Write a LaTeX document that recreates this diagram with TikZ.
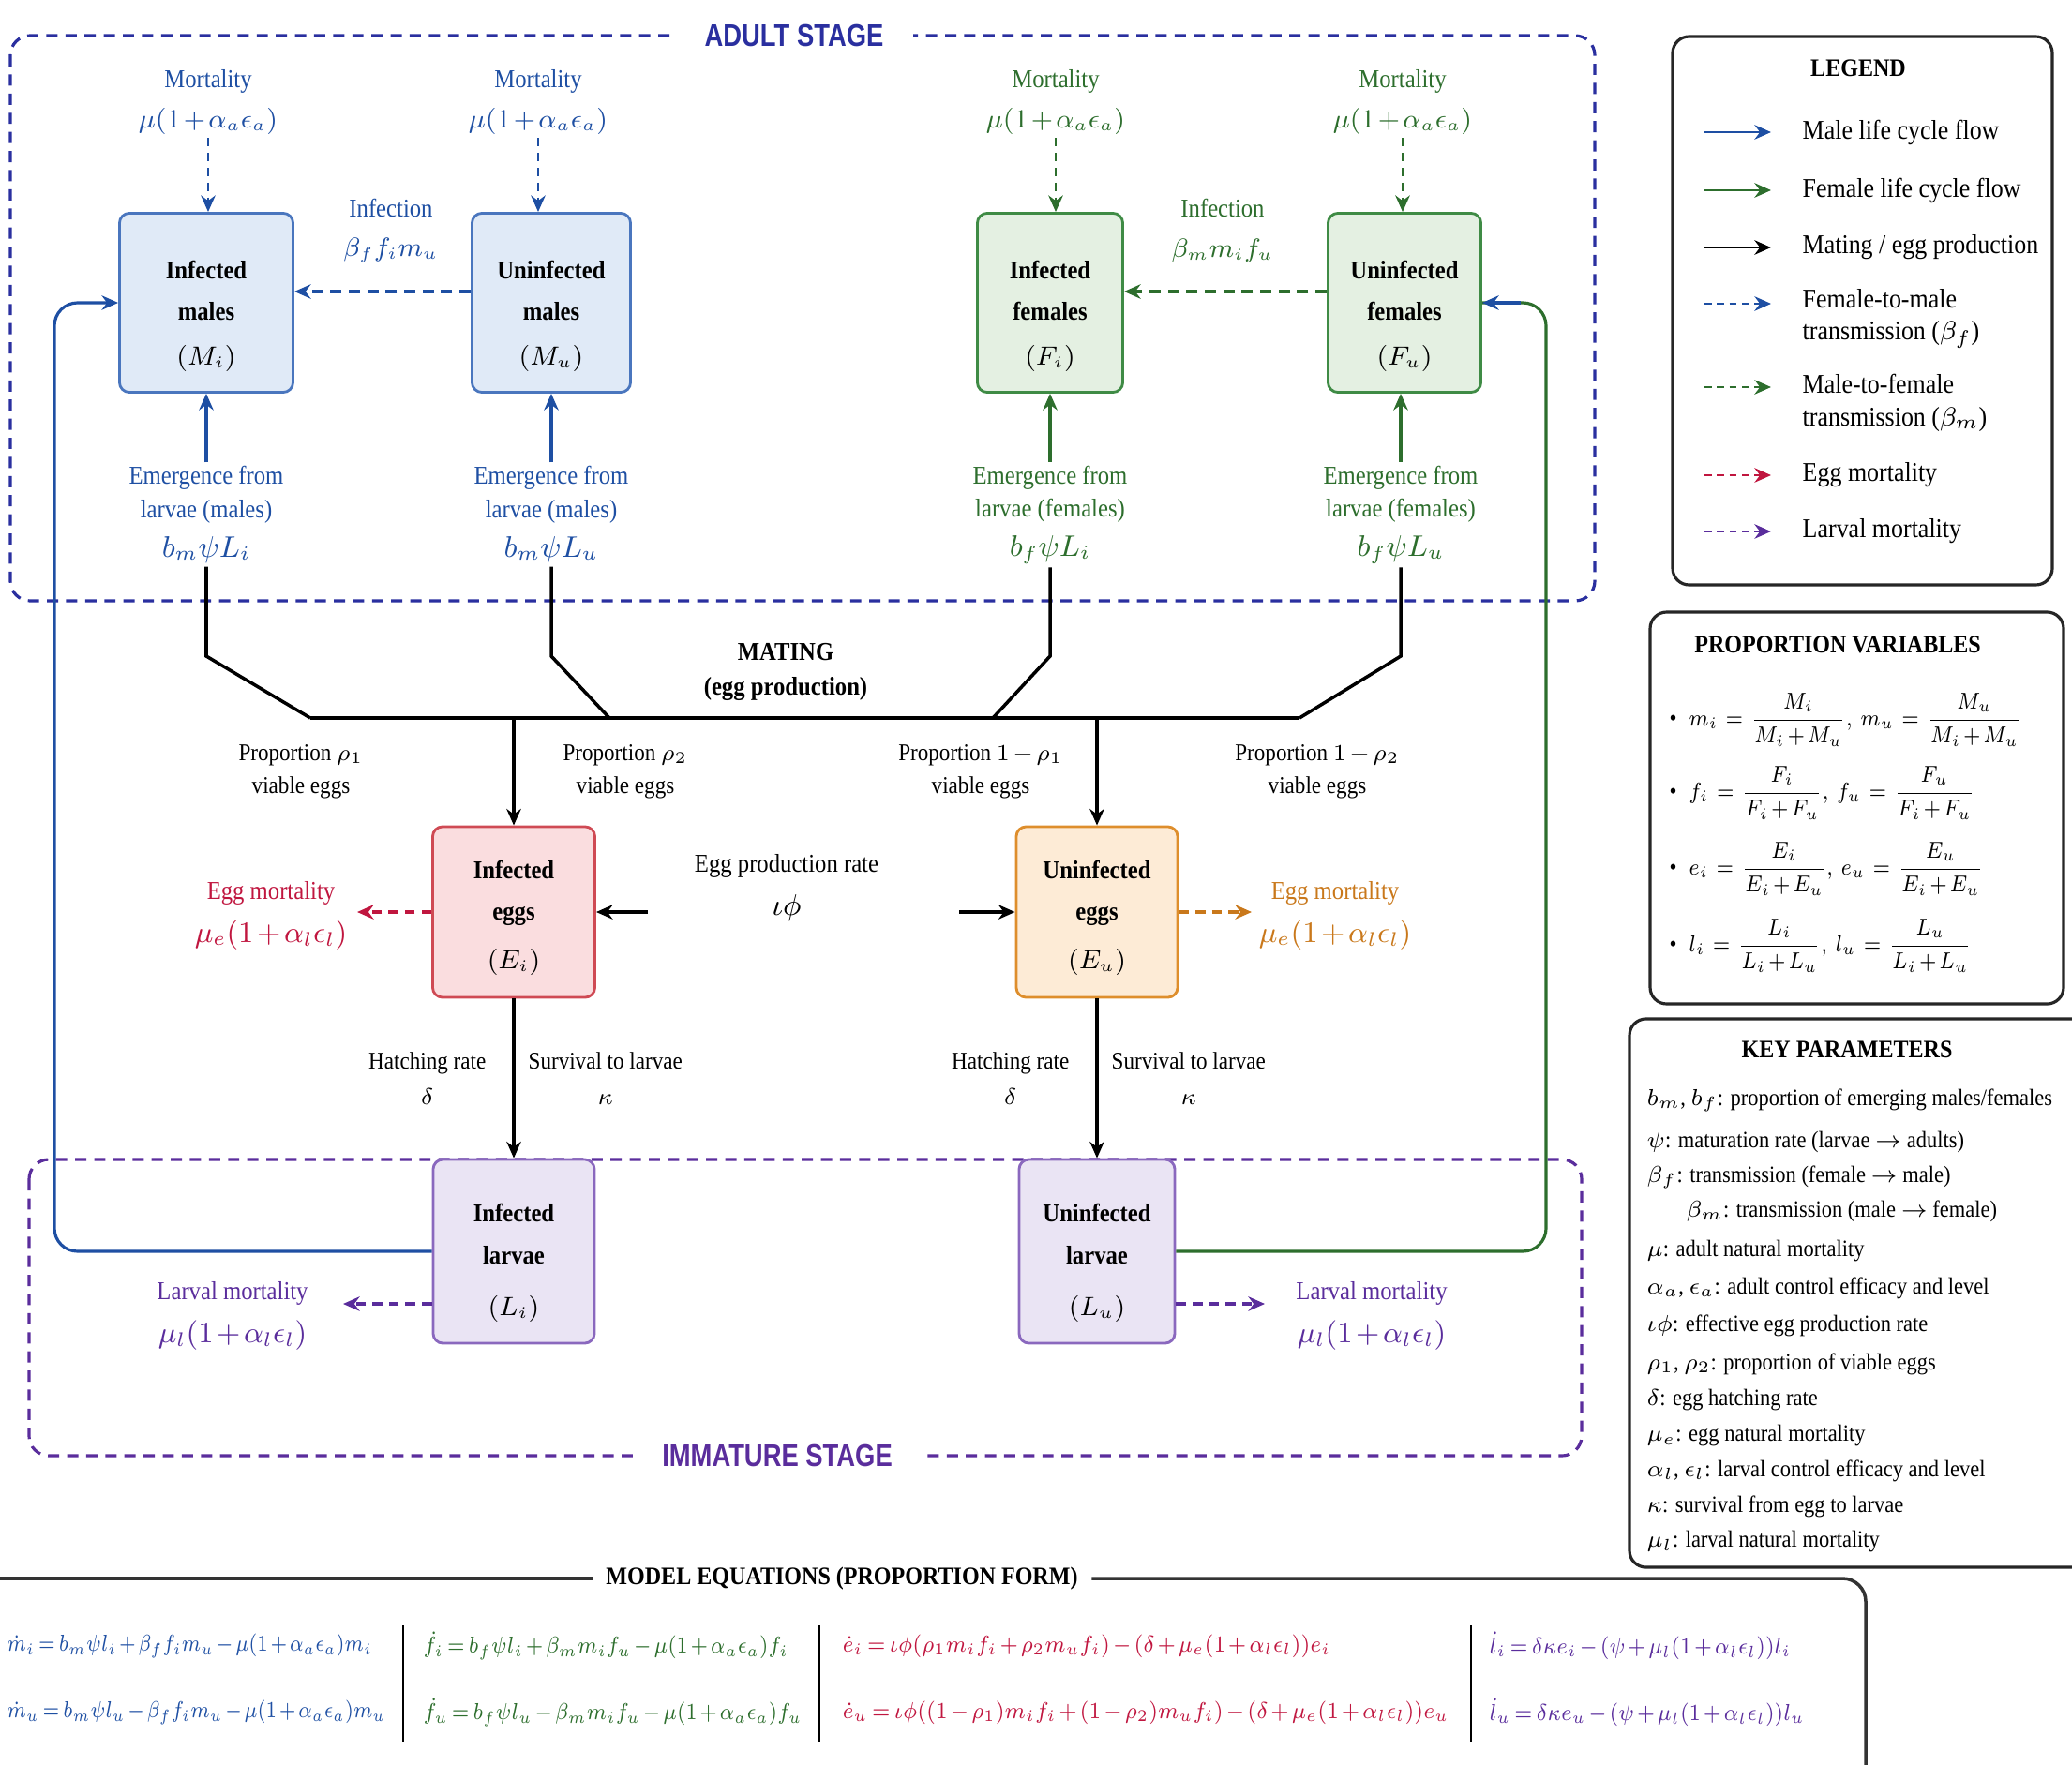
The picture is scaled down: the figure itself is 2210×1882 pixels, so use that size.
\documentclass[tikz,border=0pt]{standalone}
\usepackage{amsmath}
\usepackage{fontspec}
\setmainfont{Liberation Serif}[FakeStretch=0.9]
\setsansfont{Liberation Sans}
\usetikzlibrary{arrows.meta}
\medmuskip=2mu
\thickmuskip=3mu

\definecolor{maleblue}{HTML}{1E4FA3}
\definecolor{femgreen}{HTML}{2D6E2D}
\definecolor{eggred}{HTML}{C0163F}
\definecolor{eggorange}{HTML}{C9781B}
\definecolor{larvpurple}{HTML}{5A2D9C}
\definecolor{adultline}{HTML}{2A2F9F}
\definecolor{maleFill}{HTML}{E0EAF7}
\definecolor{maleEdge}{HTML}{4A76BE}
\definecolor{femFill}{HTML}{E4F0E2}
\definecolor{femEdge}{HTML}{3F8B45}
\definecolor{eggFill}{HTML}{FADDDF}
\definecolor{eggEdge}{HTML}{CF4A54}
\definecolor{ueggFill}{HTML}{FDEBD6}
\definecolor{ueggEdge}{HTML}{DE8E2C}
\definecolor{larvFill}{HTML}{EAE4F4}
\definecolor{larvEdge}{HTML}{8A68BE}

\begin{document}
\begin{tikzpicture}[x=0.01cm, y=-0.01cm, >={Stealth[length=5pt,width=4.4pt]},
    lbl/.style={align=center, inner sep=1pt, font=\fontsize{7.8}{10}\selectfont},
    smalllbl/.style={align=center, inner sep=1pt, font=\fontsize{7.3}{10}\selectfont},
    compbox/.style={rectangle, rounded corners=3pt, draw, line width=0.8pt, align=center, font=\bfseries\fontsize{7.8}{12.6}\selectfont},
    malebox/.style={compbox, fill=maleFill, draw=maleEdge, minimum height=1.91cm},
    femalebox/.style={compbox, fill=femFill, draw=femEdge, minimum height=1.91cm},
    eggbox/.style={compbox, fill=eggFill, draw=eggEdge, minimum height=1.82cm},
    ueggbox/.style={compbox, fill=ueggFill, draw=ueggEdge, minimum height=1.82cm},
    larvabox/.style={compbox, fill=larvFill, draw=larvEdge, minimum height=1.96cm},
    stagetitle/.style={fill=white, inner xsep=9pt, font=\sffamily\bfseries\fontsize{9.5}{11}\selectfont},
    adultframe/.style={draw=adultline, line width=0.9pt, dash pattern=on 3.4pt off 2.4pt, rounded corners=6pt},
    immframe/.style={draw=larvpurple, line width=0.9pt, dash pattern=on 3.4pt off 2.4pt, rounded corners=6pt},
    maleflow/.style={->, draw=maleblue, line width=0.9pt},
    femflow/.style={->, draw=femgreen, line width=0.9pt},
    mateflow/.style={->, draw=black, line width=0.9pt},
    mateline/.style={draw=black, line width=1pt},
    f2m/.style={->, draw=maleblue, line width=1pt, dash pattern=on 3.4pt off 2.2pt},
    m2f/.style={->, draw=femgreen, line width=1pt, dash pattern=on 3.4pt off 2.2pt},
    mortm/.style={->, draw=maleblue, line width=0.8pt, dash pattern=on 2.5pt off 2pt},
    mortf/.style={->, draw=femgreen, line width=0.8pt, dash pattern=on 2.5pt off 2pt},
    eggmort/.style={->, draw=eggred, line width=1pt, dash pattern=on 3pt off 2pt},
    ueggmort/.style={->, draw=eggorange, line width=1pt, dash pattern=on 3pt off 2pt},
    larvmort/.style={->, draw=larvpurple, line width=1pt, dash pattern=on 3pt off 2pt},
    panel/.style={draw=black!85, line width=0.9pt, rounded corners=5pt},
    paneltitle/.style={inner sep=1pt, font=\bfseries\fontsize{7.6}{9}\selectfont},
    legtext/.style={anchor=west, align=left, inner sep=0pt, font=\fontsize{8.2}{9.8}\selectfont},
    kptext/.style={anchor=west, inner sep=0pt, font=\fontsize{7.1}{9}\selectfont},
    pvtext/.style={anchor=west, inner sep=0pt, font=\fontsize{7.2}{9}\selectfont},
    eqtext/.style={anchor=west, inner sep=0pt, font=\fontsize{7.2}{9}\selectfont},
    eqrule/.style={draw=black!80, line width=1pt}]

    \useasboundingbox (0,0) rectangle (2210,1882);

    % --- stage frames ---
    \draw[adultframe] (11,38) rectangle (1701,641);
    \node[stagetitle, text=adultline] (adultT) at (847,38) {\scalebox{0.82}[1]{ADULT STAGE}};
    \draw[immframe] (31,1237) rectangle (1687,1553);
    \node[stagetitle, text=larvpurple] (immT) at (829,1553) {\scalebox{0.82}[1]{IMMATURE STAGE}};

    % --- adults ---
    \node[malebox, minimum width=1.85cm] (Mi) at (220,323) {\rule{0pt}{13.5pt}Infected\\males\\[1pt]$(M_i)$};
    \node[malebox, minimum width=1.69cm] (Mu) at (588,323) {\rule{0pt}{13.5pt}Uninfected\\males\\[1pt]$(M_u)$};
    \node[femalebox, minimum width=1.55cm] (Fi) at (1120,323) {\rule{0pt}{13.5pt}Infected\\females\\[1pt]$(F_i)$};
    \node[femalebox, minimum width=1.63cm] (Fu) at (1498,323) {\rule{0pt}{13.5pt}Uninfected\\females\\[1pt]$(F_u)$};

    \node[lbl, text=maleblue] (mortMi) at (222,109) {Mortality\\[2pt]$\mu(1+\alpha_a\epsilon_a)$};
    \node[lbl, text=maleblue] (mortMu) at (574,109) {Mortality\\[2pt]$\mu(1+\alpha_a\epsilon_a)$};
    \node[lbl, text=femgreen] (mortFi) at (1126,109) {Mortality\\[2pt]$\mu(1+\alpha_a\epsilon_a)$};
    \node[lbl, text=femgreen] (mortFu) at (1496,109) {Mortality\\[2pt]$\mu(1+\alpha_a\epsilon_a)$};
    \draw[mortm] (mortMi.south) -- (mortMi.south |- Mi.north);
    \draw[mortm] (mortMu.south) -- (mortMu.south |- Mu.north);
    \draw[mortf] (mortFi.south) -- (mortFi.south |- Fi.north);
    \draw[mortf] (mortFu.south) -- (mortFu.south |- Fu.north);

    \node[lbl, text=maleblue] (infM) at (417,246) {Infection\\[2pt]$\beta_f f_i m_u$};
    \node[lbl, text=femgreen] (infF) at (1304,246) {Infection\\[2pt]$\beta_m m_i f_u$};
    \draw[f2m] ([yshift=0.12cm]Mu.west) -- ([yshift=0.12cm]Mi.east);
    \draw[m2f] ([yshift=0.12cm]Fu.west) -- ([yshift=0.12cm]Fi.east);

    \node[lbl, text=maleblue] (emMi) at (220,549) {Emergence from\\larvae (males)\\[2pt]{\fontsize{9}{10}\selectfont$b_m\psi L_i$}};
    \node[lbl, text=maleblue] (emMu) at (588,549) {Emergence from\\larvae (males)\\[2pt]{\fontsize{9}{10}\selectfont$b_m\psi L_u$}};
    \node[lbl, text=femgreen] (emFi) at (1120,549) {Emergence from\\larvae (females)\\[2pt]{\fontsize{9}{10}\selectfont$b_f\psi L_i$}};
    \node[lbl, text=femgreen] (emFu) at (1494,549) {Emergence from\\larvae (females)\\[2pt]{\fontsize{9}{10}\selectfont$b_f\psi L_u$}};
    \draw[maleflow] (emMi.north) -- (emMi.north |- Mi.south);
    \draw[maleflow] (emMu.north) -- (emMu.north |- Mu.south);
    \draw[femflow] (emFi.north) -- (emFi.north |- Fi.south);
    \draw[femflow] (emFu.north) -- (emFu.north |- Fu.south);

    % --- mating ---
    \coordinate (knee) at (0,700);
    \coordinate (barL) at (331,766);
    \coordinate (jMu) at (650,766);
    \coordinate (jFi) at (1059,766);
    \coordinate (barR) at (1386,766);
    \draw[mateline] (emMi.south) -- (emMi.south |- knee) -- (barL);
    \draw[mateline] (emMu.south) -- (emMu.south |- knee) -- (jMu);
    \draw[mateline] (emFi.south) -- (emFi.south |- knee) -- (jFi);
    \draw[mateline] (emFu.south) -- (emFu.south |- knee) -- (barR);
    \draw[mateline, line width=1.4pt] (barL) -- (barR);
    \node[lbl, font=\bfseries\fontsize{7.8}{10.5}\selectfont] (mating) at (838,717) {MATING\\(egg production)};

    % --- eggs ---
    \node[eggbox, minimum width=1.73cm] (Ei) at (548,973) {\rule{0pt}{9pt}Infected\\eggs\\[2pt]$(E_i)$};
    \node[ueggbox, minimum width=1.72cm] (Eu) at (1170,973) {\rule{0pt}{9pt}Uninfected\\eggs\\[2pt]$(E_u)$};
    \draw[mateflow] (Ei.north |- barL) -- (Ei.north);
    \draw[mateflow] (Eu.north |- barR) -- (Eu.north);

    \node[smalllbl] (propA) at (321,823) {Proportion $\rho_1$\\viable eggs};
    \node[smalllbl] (propB) at (667,823) {Proportion $\rho_2$\\viable eggs};
    \node[smalllbl] (propC) at (1046,823) {Proportion $1-\rho_1$\\viable eggs};
    \node[smalllbl] (propD) at (1405,823) {Proportion $1-\rho_2$\\viable eggs};

    \node[lbl] (epr) at (839,947) {Egg production rate\\[3pt]{\fontsize{9.5}{10}\selectfont$\iota\phi$}};
    \coordinate (eprL) at (691,973);
    \coordinate (eprR) at (1023,973);
    \draw[mateflow, line width=1.3pt] (eprL) -- (Ei.east);
    \draw[mateflow, line width=1.3pt] (eprR) -- (Eu.west);

    \node[lbl, text=eggred] (emortI) at (289,977) {Egg mortality\\[3pt]{\fontsize{8.6}{10}\selectfont$\mu_e(1+\alpha_l\epsilon_l)$}};
    \node[lbl, text=eggorange] (emortU) at (1424,977) {Egg mortality\\[3pt]{\fontsize{8.6}{10}\selectfont$\mu_e(1+\alpha_l\epsilon_l)$}};
    \coordinate (emL) at (381,973);
    \coordinate (emR) at (1335,973);
    \draw[eggmort] (Ei.west) -- (emL);
    \draw[ueggmort] (Eu.east) -- (emR);

    % --- larvae ---
    \node[larvabox, minimum width=1.72cm] (Li) at (548,1335) {\rule{0pt}{12.5pt}Infected\\larvae\\[3pt]$(L_i)$};
    \node[larvabox, minimum width=1.66cm] (Lu) at (1170,1335) {\rule{0pt}{12.5pt}Uninfected\\larvae\\[3pt]$(L_u)$};
    \draw[mateflow] (Ei.south) -- node[smalllbl, left=7pt] {Hatching rate\\[1pt]$\delta$} node[smalllbl, right=3pt] {Survival to larvae\\[1pt]$\kappa$} (Li.north);
    \draw[mateflow] (Eu.south) -- node[smalllbl, left=7pt] {Hatching rate\\[1pt]$\delta$} node[smalllbl, right=3pt] {Survival to larvae\\[1pt]$\kappa$} (Lu.north);

    \node[lbl, text=larvpurple] (lmortI) at (248,1404) {Larval mortality\\[3pt]{\fontsize{8.6}{10}\selectfont$\mu_l(1+\alpha_l\epsilon_l)$}};
    \node[lbl, text=larvpurple] (lmortU) at (1463,1404) {Larval mortality\\[3pt]{\fontsize{8.6}{10}\selectfont$\mu_l(1+\alpha_l\epsilon_l)$}};
    \coordinate (lmL) at (366,1391);
    \coordinate (lmR) at (1349,1391);
    \draw[larvmort] (Li.west |- lmL) -- (lmL);
    \draw[larvmort] (Lu.east |- lmR) -- (lmR);

    % --- emergence feedback ---
    \coordinate (blueX) at (58,0);
    \coordinate (greenX) at (1649,0);
    \coordinate (fuIn) at (1622,323);
    \draw[maleflow, rounded corners=7pt] (Li.west) -| (blueX |- Mi.west) -- (Mi.west);
    \draw[femgreen, line width=0.9pt, rounded corners=7pt] (Lu.east) -| (greenX |- Fu.east) -- (Fu.east);
    \draw[maleflow] (fuIn) -- (Fu.east);

    % --- legend ---
    \draw[panel] (1784,39) rectangle (2189,624);
    \node[paneltitle] (legT) at (1982,73) {LEGEND};
    \node[legtext] (legA) at (1922,141) {Male life cycle flow};
    \node[legtext] (legB) at (1922,203) {Female life cycle flow};
    \node[legtext] (legC) at (1922,264) {Mating / egg production};
    \node[legtext] (legD) at (1922,340) {Female-to-male\\transmission ($\beta_f$)};
    \node[legtext] (legE) at (1922,430) {Male-to-female\\transmission ($\beta_m$)};
    \node[legtext] (legF) at (1922,507) {Egg mortality};
    \node[legtext] (legG) at (1922,567) {Larval mortality};
    \draw[maleflow, line width=0.8pt] ([xshift=-1.04cm]legA.west) -- ([xshift=-0.33cm]legA.west);
    \draw[femflow, line width=0.8pt] ([xshift=-1.04cm]legB.west) -- ([xshift=-0.33cm]legB.west);
    \draw[mateflow, line width=0.8pt] ([xshift=-1.04cm]legC.west) -- ([xshift=-0.33cm]legC.west);
    \draw[f2m, line width=0.8pt, dash pattern=on 2.2pt off 1.6pt] ([xshift=-1.04cm,yshift=0.16cm]legD.west) -- ([xshift=-0.33cm,yshift=0.16cm]legD.west);
    \draw[m2f, line width=0.8pt, dash pattern=on 2.2pt off 1.6pt] ([xshift=-1.04cm,yshift=0.17cm]legE.west) -- ([xshift=-0.33cm,yshift=0.17cm]legE.west);
    \draw[eggmort, line width=0.8pt, dash pattern=on 2.2pt off 1.6pt] ([xshift=-1.04cm]legF.west) -- ([xshift=-0.33cm]legF.west);
    \draw[larvmort, line width=0.8pt, dash pattern=on 2.2pt off 1.6pt] ([xshift=-1.04cm]legG.west) -- ([xshift=-0.33cm]legG.west);

    % --- proportion variables ---
    \draw[panel] (1760,653) rectangle (2201,1071);
    \node[paneltitle] (pvT) at (1960,688) {PROPORTION VARIABLES};
    \node[pvtext] (pvM) at (1780,768) {\textbullet\enspace\scalebox{0.86}[1]{$m_i \;=\; \dfrac{M_i}{M_i+M_u},\; m_u \;=\; \dfrac{M_u}{M_i+M_u}$}};
    \node[pvtext] (pvF) at (1780,846) {\textbullet\enspace\scalebox{0.86}[1]{$f_i \;=\; \dfrac{F_i}{F_i+F_u},\; f_u \;=\; \dfrac{F_u}{F_i+F_u}$}};
    \node[pvtext] (pvE) at (1780,927) {\textbullet\enspace\scalebox{0.86}[1]{$e_i \;=\; \dfrac{E_i}{E_i+E_u},\; e_u \;=\; \dfrac{E_u}{E_i+E_u}$}};
    \node[pvtext] (pvL) at (1780,1009) {\textbullet\enspace\scalebox{0.86}[1]{$l_i \;=\; \dfrac{L_i}{L_i+L_u},\; l_u \;=\; \dfrac{L_u}{L_i+L_u}$}};

    % --- key parameters ---
    \draw[panel] (1738,1087) rectangle (2240,1672);
    \node[paneltitle] (kpT) at (1970,1120) {KEY PARAMETERS};
    \node[kptext] (kp1) at (1756,1174) {$b_m$, $b_f$: proportion of emerging males/females};
    \node[kptext] (kp2) at (1756,1218) {$\psi$: maturation rate (larvae $\rightarrow$ adults)};
    \node[kptext] (kp3) at (1756,1256) {$\beta_f$: transmission (female $\rightarrow$ male)};
    \node[kptext] (kp4) at (1798,1292) {$\beta_m$: transmission (male $\rightarrow$ female)};
    \node[kptext] (kp5) at (1756,1335) {$\mu$: adult natural mortality};
    \node[kptext] (kp6) at (1756,1374) {$\alpha_a$, $\epsilon_a$: adult control efficacy and level};
    \node[kptext] (kp7) at (1756,1414) {$\iota\phi$: effective egg production rate};
    \node[kptext] (kp8) at (1756,1455) {$\rho_1$, $\rho_2$: proportion of viable eggs};
    \node[kptext] (kp9) at (1756,1494) {$\delta$: egg hatching rate};
    \node[kptext] (kp10) at (1756,1532) {$\mu_e$: egg natural mortality};
    \node[kptext] (kp11) at (1756,1569) {$\alpha_l$, $\epsilon_l$: larval control efficacy and level};
    \node[kptext] (kp12) at (1756,1607) {$\kappa$: survival from egg to larvae};
    \node[kptext] (kp13) at (1756,1645) {$\mu_l$: larval natural mortality};

    % --- model equations ---
    \node[paneltitle, inner xsep=4pt] (eqT) at (898,1684) {MODEL EQUATIONS (PROPORTION FORM)};
    \coordinate (eqL) at (0,1684);
    \coordinate (eqC) at (1990,1684);
    \coordinate (eqD) at (1990,1895);
    \draw[eqrule] (eqL) -- (eqT.west);
    \draw[eqrule, rounded corners=7pt] (eqT.east) -- (eqC) -- (eqD);
    \draw[line width=0.8pt] (430,1734) -- (430,1858);
    \draw[line width=0.8pt] (874,1734) -- (874,1858);
    \draw[line width=0.8pt] (1569,1734) -- (1569,1858);

    \node[eqtext, text=maleblue] (eqMi) at (7,1756) {\scalebox{0.82}[1]{$\dot{m}_i = b_m\psi l_i + \beta_f f_i m_u - \mu(1+\alpha_a\epsilon_a)m_i$}};
    \node[eqtext, text=maleblue] (eqMu) at (7,1827) {\scalebox{0.82}[1]{$\dot{m}_u = b_m\psi l_u - \beta_f f_i m_u - \mu(1+\alpha_a\epsilon_a)m_u$}};
    \node[eqtext, text=femgreen] (eqFi) at (451,1756) {\scalebox{0.86}[1]{$\dot{f}_i = b_f\psi l_i + \beta_m m_i f_u - \mu(1+\alpha_a\epsilon_a)f_i$}};
    \node[eqtext, text=femgreen] (eqFu) at (451,1827) {\scalebox{0.86}[1]{$\dot{f}_u = b_f\psi l_u - \beta_m m_i f_u - \mu(1+\alpha_a\epsilon_a)f_u$}};
    \node[eqtext, text=eggred] (eqEi) at (898,1756) {\scalebox{0.9}[1]{$\dot{e}_i = \iota\phi(\rho_1 m_i f_i + \rho_2 m_u f_i) - (\delta+\mu_e(1+\alpha_l\epsilon_l))e_i$}};
    \node[eqtext, text=eggred] (eqEu) at (898,1827) {\scalebox{0.9}[1]{$\dot{e}_u = \iota\phi((1-\rho_1)m_i f_i + (1-\rho_2)m_u f_i) - (\delta+\mu_e(1+\alpha_l\epsilon_l))e_u$}};
    \node[eqtext, text=larvpurple] (eqLi) at (1588,1756) {\scalebox{0.88}[1]{$\dot{l}_i = \delta\kappa e_i - (\psi+\mu_l(1+\alpha_l\epsilon_l))l_i$}};
    \node[eqtext, text=larvpurple] (eqLu) at (1588,1827) {\scalebox{0.88}[1]{$\dot{l}_u = \delta\kappa e_u - (\psi+\mu_l(1+\alpha_l\epsilon_l))l_u$}};
\end{tikzpicture}
\end{document}
